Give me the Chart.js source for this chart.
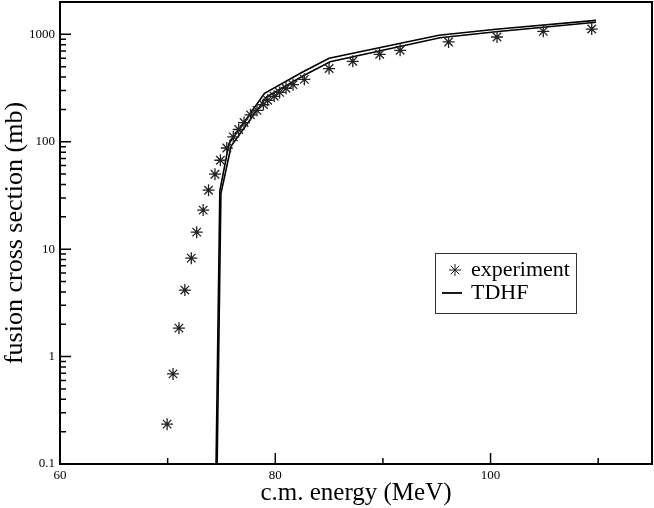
<!DOCTYPE html>
<html>
<head>
<meta charset="utf-8">
<script src="https://cdn.jsdelivr.net/npm/chart.js@4"></script>
<style>
  body { margin: 0; background: #fff; }
  #wrap { width: 654px; height: 508px; }
</style>
</head>
<body>
<div id="wrap"><canvas id="grafico"></canvas></div>
<script>
// experimental points
const expEnergy = [69.95, 70.5, 71.05, 71.6, 72.2, 72.7, 73.3, 73.8, 74.4, 74.9, 75.5, 76.1, 76.6, 77.1, 77.7, 78.3, 78.9, 79.3, 79.9, 80.4, 81.0, 81.65, 82.7, 85.0, 87.2, 89.7, 91.6, 96.1, 100.6, 104.9, 109.4];
const expSigma = [0.235, 0.69, 1.84, 4.16, 8.25, 14.4, 23.1, 35.4, 49.9, 67.3, 87.5, 111, 130, 151, 178, 196, 222, 243, 265, 288, 315, 340, 381, 480, 561, 652, 710, 849, 944, 1066, 1120];

// TDHF curves (two close lines)
const tdhfEnergyA = [74.5, 74.85, 75.7, 79.0, 82.5, 85.0, 95.2, 100.5, 109.8];
const tdhfSigmaA = [0.1, 35, 96, 282, 444, 598, 979, 1114, 1350];
const tdhfEnergyB = [74.6, 74.95, 75.9, 79.2, 82.6, 85.1, 95.3, 100.5, 109.8];
const tdhfSigmaB = [0.1, 33, 91, 262, 412, 556, 928, 1058, 1295];

const xTicks = [60, 80, 100];
const xMinor = [70, 90, 110];
const yTicks = [0.1, 1, 10, 100, 1000];

const serif = "'Liberation Serif', 'DejaVu Serif', serif";

function pares(xs, ys) {
    return xs.map((x, i) => ({ x: x, y: ys[i] }));
}

// ticks pointing inward + frame + legend
const ticksDentro = {
    id: 'ticksDentro',
    afterDraw(chart) {
        const ctx = chart.ctx;
        const a = chart.chartArea;
        const sx = chart.scales.x;
        const sy = chart.scales.y;
        ctx.save();
        ctx.strokeStyle = '#000';
        ctx.lineWidth = 2;
        ctx.strokeRect(a.left, a.top, a.right - a.left, a.bottom - a.top);
        ctx.lineWidth = 1.5;
        ctx.beginPath();
        xTicks.forEach(v => {
            const p = sx.getPixelForValue(v);
            ctx.moveTo(p, a.bottom); ctx.lineTo(p, a.bottom - 11);
        });
        xMinor.forEach(v => {
            const p = sx.getPixelForValue(v);
            ctx.moveTo(p, a.bottom); ctx.lineTo(p, a.bottom - 6);
        });
        yTicks.forEach(d => {
            const p = sy.getPixelForValue(d);
            ctx.moveTo(a.left, p); ctx.lineTo(a.left + 11, p);
            for (let k = 2; k <= 9; k++) {
                const v = d * k;
                if (v > sy.max) break;
                const q = sy.getPixelForValue(v);
                ctx.moveTo(a.left, q); ctx.lineTo(a.left + 6, q);
            }
        });
        ctx.stroke();

        // legenda
        const lx = 435.5, ly = 253.5;
        ctx.lineWidth = 1;
        ctx.strokeStyle = '#333';
        ctx.strokeRect(lx, ly, 141, 60);
        const ds0 = chart.data.datasets[0];
        ctx.strokeStyle = ds0.borderColor;
        Chart.helpers.drawPoint(ctx, {
            pointStyle: 'star', radius: 6, borderWidth: 1.3
        }, 455, 270);
        ctx.strokeStyle = '#000';
        ctx.lineWidth = 1.8;
        ctx.beginPath();
        ctx.moveTo(442, 293); ctx.lineTo(462, 293);
        ctx.stroke();
        ctx.fillStyle = '#000';
        ctx.font = '22px ' + serif;
        ctx.textBaseline = 'middle';
        ctx.fillText(ds0.label, 471, 270);
        ctx.fillText(chart.data.datasets[1].label, 471, 293);
        ctx.restore();
    }
};

new Chart(document.getElementById('grafico'), {
    type: 'scatter',
    data: {
        datasets: [{
            label: 'experiment',
            data: pares(expEnergy, expSigma),
            pointStyle: 'star',
            pointRadius: 6,
            borderColor: '#222',
            backgroundColor: '#222',
            borderWidth: 1.3,
            showLine: false
        }, {
            label: 'TDHF',
            data: pares(tdhfEnergyA, tdhfSigmaA),
            showLine: true,
            pointRadius: 0,
            borderColor: '#000',
            borderWidth: 1.6,
            tension: 0
        }, {
            label: 'TDHF',
            data: pares(tdhfEnergyB, tdhfSigmaB),
            showLine: true,
            pointRadius: 0,
            borderColor: '#000',
            borderWidth: 1.6,
            tension: 0
        }]
    },
    options: {
        responsive: true,
        maintainAspectRatio: false,
        animation: false,
        layout: { autoPadding: false, padding: { top: 2, right: 2, left: 0, bottom: 0 } },
        plugins: {
            legend: { display: false },
            tooltip: { enabled: false }
        },
        scales: {
            x: {
                type: 'linear',
                min: 60,
                max: 115,
                afterBuildTicks: s => { s.ticks = xTicks.map(v => ({ value: v })); },
                afterFit: s => { s.height = 44; s.paddingLeft = 0; s.paddingRight = 0; },
                grid: { display: false, drawTicks: false },
                border: { display: false },
                ticks: {
                    color: '#000',
                    padding: 4,
                    maxRotation: 0,
                    font: { family: serif, size: 13 }
                },
                title: {
                    display: true,
                    text: 'c.m. energy (MeV)',
                    color: '#000',
                    padding: { top: 0, bottom: 0 },
                    font: { family: serif, size: 25 }
                }
            },
            y: {
                type: 'logarithmic',
                min: 0.1,
                max: 2000,
                afterBuildTicks: s => { s.ticks = yTicks.map(v => ({ value: v })); },
                afterFit: s => { s.width = 60; s.paddingTop = 0; s.paddingBottom = 0; },
                grid: { display: false, drawTicks: false },
                border: { display: false },
                ticks: {
                    color: '#000',
                    padding: 5,
                    font: { family: serif, size: 13 },
                    callback: v => String(v)
                },
                title: {
                    display: true,
                    text: 'fusion cross section (mb)',
                    color: '#000',
                    padding: { top: 0, bottom: 0 },
                    font: { family: serif, size: 26 }
                }
            }
        }
    },
    plugins: [ticksDentro]
});
</script>
</body>
</html>
